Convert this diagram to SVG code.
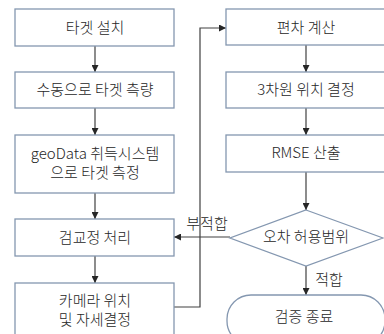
<svg xmlns="http://www.w3.org/2000/svg" width="384" height="334" viewBox="0 0 384 334">
<defs>
<marker id="ah" viewBox="0 0 10 10" refX="10" refY="5" markerWidth="7" markerHeight="7" markerUnits="userSpaceOnUse" orient="auto">
<path d="M0,0 L10,5 L0,10 z" fill="#262626"/>
</marker>
<style>
.box{fill:#ffffff;stroke:#8497b0;stroke-width:1.3}
.t{font-family:"Malgun Gothic","Noto Sans CJK KR","Noto Sans",sans-serif;font-size:15px;font-weight:300;fill:#262626;text-anchor:middle}
.c{fill:none;stroke:#404040;stroke-width:1.2;marker-end:url(#ah)}
</style>
</defs>
<rect width="384" height="334" fill="#ffffff"/>
<g id="connectors">
<path class="c" d="M95,46 V72"/>
<path class="c" d="M95,108 V135"/>
<path class="c" d="M95,193 V219"/>
<path class="c" d="M95,256 V283"/>
<path class="c" d="M174,307 H200 V28 H226"/>
<path class="c" d="M306,45 V72"/>
<path class="c" d="M306,108 V135"/>
<path class="c" d="M306,172 V210"/>
<path class="c" d="M306,266 V295"/>
<path class="c" d="M230,237 H174"/>
<text class="t" x="207" y="229">부적합</text>
<text class="t" x="329" y="285">적합</text>
</g>
<g id="n1"><rect class="box" x="15" y="9" width="159" height="37"/><text class="t" x="95" y="33">타겟 설치</text></g>
<g id="n2"><rect class="box" x="15" y="72" width="159" height="36"/><text class="t" x="95" y="95">수동으로 타겟 측량</text></g>
<g id="n3"><rect class="box" x="15" y="135" width="159" height="58"/><text class="t" x="95" y="159">geoData 취득시스템</text><text class="t" x="95" y="178">으로 타겟 측정</text></g>
<g id="n4"><rect class="box" x="15" y="219" width="159" height="37"/><text class="t" x="95" y="243">검교정 처리</text></g>
<g id="n5"><rect class="box" x="15" y="283" width="159" height="60"/><text class="t" x="95" y="306">카메라 위치</text><text class="t" x="95" y="325">및 자세결정</text></g>
<g id="n6"><rect class="box" x="226" y="9" width="160" height="36"/><text class="t" x="306" y="33">편차 계산</text></g>
<g id="n7"><rect class="box" x="226" y="72" width="160" height="36"/><text class="t" x="306" y="95">3차원 위치 결정</text></g>
<g id="n8"><rect class="box" x="226" y="135" width="160" height="37"/><text class="t" x="306" y="158">RMSE 산출</text></g>
<g id="n9"><path class="box" d="M306,210 L383,238 L306,266 L230,238 z"/><text class="t" x="306" y="242">오차 허용범위</text></g>
<g id="n10"><rect class="box" x="227" y="295" width="158" height="50" rx="24"/><text class="t" x="304" y="322">검증 종료</text></g>
</svg>
